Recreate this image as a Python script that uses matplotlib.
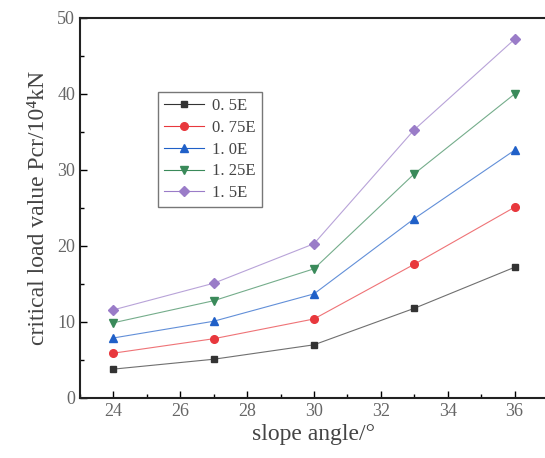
import matplotlib
matplotlib.use("Agg")
import matplotlib.pyplot as plt
from matplotlib.ticker import MultipleLocator
from matplotlib.lines import Line2D

angles = [24, 27, 30, 33, 36]
labels = ["0. 5E", "0. 75E", "1. 0E", "1. 25E", "1. 5E"]
s05 = [3.8, 5.1, 7.0, 11.8, 17.2]
s075 = [5.9, 7.8, 10.4, 17.6, 25.1]
s10 = [7.9, 10.1, 13.7, 23.6, 32.6]
s125 = [9.9, 12.8, 17.0, 29.5, 40.0]
s15 = [11.6, 15.1, 20.3, 35.3, 47.2]
series = [s05, s075, s10, s125, s15]
colors = ["#333333", "#e8383d", "#2060c8", "#3a8a5a", "#9a7cc8"]
markers = ["s", "o", "^", "v", "D"]
msizes = [5, 5.5, 6, 6, 5]

plt.rcParams['font.family'] = ['Liberation Serif', 'DejaVu Serif']
fig = plt.figure(figsize=(5.45, 4.58), dpi=100)
ax = fig.add_axes([80/545, 60/458, 468/545, 380/458])

handles = []
for y, c, m, ms, lab in zip(series, colors, markers, msizes, labels):
    ax.plot(angles, y, color=c, lw=0.8, alpha=0.7)
    ax.plot(angles, y, ls='none', marker=m, ms=ms,
            markerfacecolor=c, markeredgecolor=c)
    handles.append(Line2D([], [], color=c, lw=0.8, marker=m, ms=ms,
                          markerfacecolor=c, markeredgecolor=c, label=lab))

ax.set_xlim(23, 37)
ax.set_ylim(0, 50)
ax.xaxis.set_major_locator(MultipleLocator(2))
ax.xaxis.set_minor_locator(MultipleLocator(1))
ax.yaxis.set_major_locator(MultipleLocator(10))
ax.yaxis.set_minor_locator(MultipleLocator(5))
ax.tick_params(which='both', direction='in', top=False, right=False,
               labelsize=13, labelcolor='#666666', width=1)
ax.tick_params(which='major', length=5)
ax.tick_params(which='minor', length=3)
for sp in ax.spines.values():
    sp.set_linewidth(1.5)
    sp.set_color('#222222')

ax.set_xlabel("slope angle/°", fontsize=17, color='#444444', labelpad=3)
ax.set_ylabel("critical load value Pcr/10⁴kN", fontsize=17, color='#444444', labelpad=6)

leg = ax.legend(handles=handles, loc='upper left', bbox_to_anchor=(78/468, 1 - 74/380),
                fontsize=12, frameon=True, fancybox=False, edgecolor='#555555',
                handlelength=2.4, borderpad=0.35, labelspacing=0.35,
                handletextpad=0.5, borderaxespad=0)
for t in leg.get_texts():
    t.set_color('#444444')
leg.get_frame().set_linewidth(1.0)

fig.savefig("out.png", dpi=100)
